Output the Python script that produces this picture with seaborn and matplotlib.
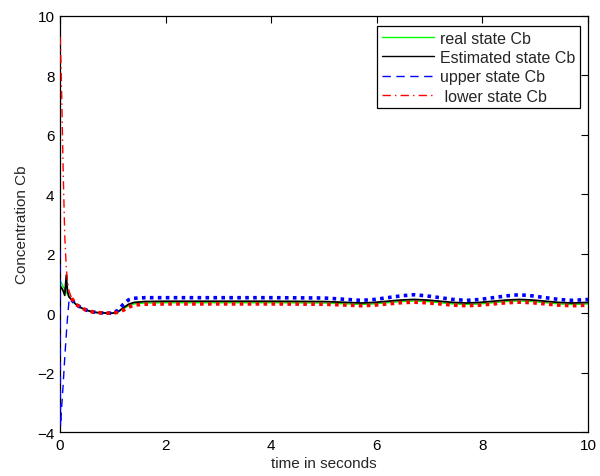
import matplotlib
matplotlib.use("Agg")
import matplotlib.pyplot as plt
import seaborn as sns
from matplotlib.lines import Line2D

# ---- data ----
t = [0, 0.01, 0.03, 0.06, 0.09, 0.12, 0.14, 0.17, 0.22,
     0.3, 0.4, 0.5, 0.6, 0.7, 0.8, 0.9, 1.0,
     1.1, 1.2, 1.3, 1.4, 1.6, 2.0, 3.0, 4.0, 5.0,
     5.45, 5.7, 5.95, 6.2, 6.45, 6.7, 6.95, 7.2, 7.45, 7.7,
     7.95, 8.2, 8.45, 8.7, 8.95, 9.2, 9.45, 9.7, 10.0]

real_cb = [1.1, 1.07, 1.0, 0.9, 0.8, 0.7, 0.64, 0.55, 0.45,
           0.3, 0.18, 0.1, 0.05, 0.02, 0.01, 0.0, 0.0,
           0.04, 0.14, 0.25, 0.31, 0.34, 0.35, 0.35, 0.35, 0.34,
           0.31, 0.29, 0.31, 0.35, 0.39, 0.41, 0.39, 0.35, 0.31, 0.29,
           0.31, 0.35, 0.39, 0.41, 0.39, 0.35, 0.31, 0.29, 0.31]

est_cb = [0.95, 0.9, 0.85, 0.75, 0.6, 1.28, 0.75, 0.55, 0.45,
          0.3, 0.18, 0.1, 0.05, 0.02, 0.01, 0.0, 0.0,
          0.05, 0.18, 0.3, 0.36, 0.39, 0.4, 0.4, 0.4, 0.39,
          0.36, 0.34, 0.36, 0.40, 0.44, 0.46, 0.44, 0.40, 0.36, 0.34,
          0.36, 0.40, 0.44, 0.46, 0.44, 0.40, 0.36, 0.34, 0.36]

upper_cb = [2.1, -3.8, -3.2, -2.4, -1.5, -0.7, -0.2, 0.4, 0.45,
            0.3, 0.18, 0.1, 0.05, 0.02, 0.01, 0.0, 0.0,
            0.1, 0.3, 0.45, 0.5, 0.52, 0.52, 0.52, 0.52, 0.51,
            0.46, 0.43, 0.46, 0.52, 0.58, 0.62, 0.58, 0.52, 0.46, 0.43,
            0.46, 0.52, 0.58, 0.62, 0.58, 0.52, 0.46, 0.43, 0.46]

lower_cb = [9.3, 9.0, 7.5, 4.8, 2.6, 1.5, 1.1, 0.75, 0.5,
            0.3, 0.18, 0.1, 0.05, 0.02, 0.01, 0.0, 0.0,
            0.03, 0.1, 0.2, 0.27, 0.3, 0.31, 0.31, 0.31, 0.30,
            0.27, 0.25, 0.27, 0.31, 0.35, 0.37, 0.35, 0.31, 0.27, 0.25,
            0.27, 0.31, 0.35, 0.37, 0.35, 0.31, 0.27, 0.25, 0.27]

labels = ["real state Cb", "Estimated state Cb", "upper state Cb", " lower state Cb"]
x_ticks = [0, 2, 4, 6, 8, 10]
y_ticks = [-4, -2, 0, 2, 4, 6, 8, 10]

sns.set_style("white")
plt.rcParams["font.family"] = ["Liberation Sans", "DejaVu Sans"]

fig = plt.figure(figsize=(6.0, 4.77), dpi=100)
ax = fig.add_axes([0.1, 0.0922, 0.88, 0.8722])

split = 8  # index where the dense part begins

GREEN, BLUE, RED = "#00ff00", "#0000ff", "#ff0000"

sns.lineplot(x=t, y=real_cb, sort=False, color=GREEN, lw=1.0, ax=ax, zorder=2)
sns.lineplot(x=t, y=est_cb, sort=False, color="black", lw=1.3, ax=ax, zorder=3)

# upper: dashed in sparse part, dense dotted look afterwards
sns.lineplot(x=t[:split + 1], y=upper_cb[:split + 1], sort=False, color=BLUE,
             lw=1.0, linestyle=(0, (6, 4)), ax=ax, zorder=4)
sns.lineplot(x=t[split:], y=upper_cb[split:], sort=False, color=BLUE,
             lw=2.6, linestyle=(0, (1.0, 1.2)), ax=ax, zorder=4)
# lower: dash-dot in sparse part, dense dotted afterwards
sns.lineplot(x=t[:split + 1], y=lower_cb[:split + 1], sort=False, color=RED,
             lw=1.0, linestyle=(0, (6, 3, 1, 3)), ax=ax, zorder=5)
sns.lineplot(x=t[split:], y=lower_cb[split:], sort=False, color=RED,
             lw=2.6, linestyle=(0, (1.0, 1.2)), ax=ax, zorder=5)

ax.set_xlim(0, 10)
ax.set_ylim(-4, 10)
ax.set_xticks(x_ticks)
ax.set_xticklabels([str(v) for v in x_ticks])
ax.set_yticks(y_ticks)
ax.set_yticklabels([("\u2212" + str(-v)) if v < 0 else str(v) for v in y_ticks])
ax.tick_params(direction="in", length=5, width=0.8, top=True, right=True,
               labelsize=11, colors="black", pad=4)
for s in ax.spines.values():
    s.set_visible(True)
    s.set_color("black")
    s.set_linewidth(0.9)

ax.set_xlabel("time in seconds", fontsize=11, labelpad=3)
ax.set_ylabel("Concentration Cb", fontsize=11, labelpad=6)

handles = [
    Line2D([], [], color=GREEN, lw=1.0),
    Line2D([], [], color="black", lw=1.0),
    Line2D([], [], color=BLUE, lw=1.0, linestyle=(0, (6, 4))),
    Line2D([], [], color=RED, lw=1.0, linestyle=(0, (6, 3, 1, 3))),
]
leg = ax.legend(handles, labels, loc="upper right", fontsize=11.5,
                frameon=True, fancybox=False, edgecolor="black",
                framealpha=1, borderpad=0.3, labelspacing=0.27,
                handlelength=3.3, handletextpad=0.35, borderaxespad=0,
                bbox_to_anchor=(0.985, 0.976))
leg.get_frame().set_linewidth(0.9)

fig.savefig("out.png", dpi=100)
